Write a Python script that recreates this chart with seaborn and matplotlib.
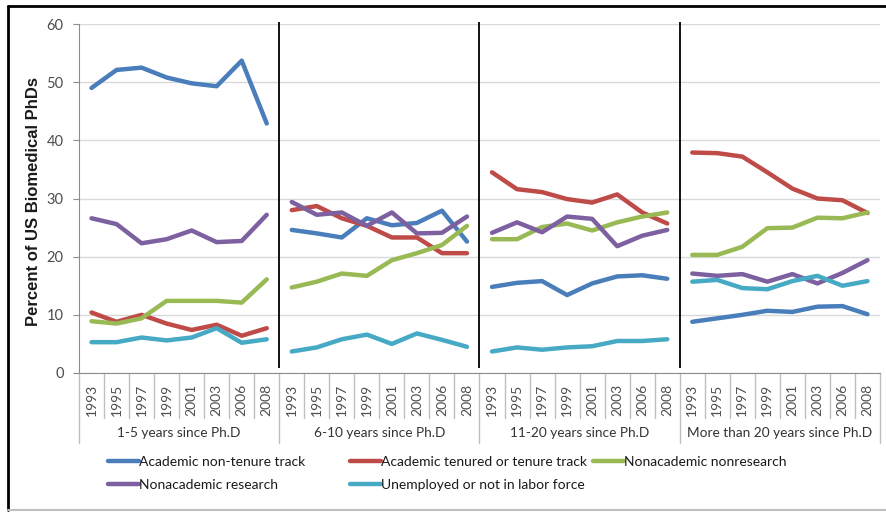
import numpy as np
import pandas as pd
import seaborn as sns
import matplotlib.pyplot as plt
from matplotlib.lines import Line2D

years = ['1993', '1995', '1997', '1999', '2001', '2003', '2006', '2008']
groups = ['1-5 years since Ph.D', '6-10 years since Ph.D',
          '11-20 years since Ph.D', 'More than 20 years since Ph.D']
series = ['Academic non-tenure track', 'Academic tenured or tenure track',
          'Nonacademic nonresearch', 'Nonacademic research',
          'Unemployed or not in labor force']

# values per series, 8 years for each of the 4 groups
non_tenure = [49.0, 52.1, 52.5, 50.8, 49.8, 49.3, 53.7, 42.9,
              24.6, 24.0, 23.3, 26.6, 25.4, 25.8, 27.9, 22.6,
              14.8, 15.5, 15.8, 13.4, 15.4, 16.6, 16.8, 16.2,
              8.8, 9.4, 10.0, 10.7, 10.5, 11.4, 11.5, 10.1]
tenured = [10.4, 8.8, 10.0, 8.5, 7.4, 8.3, 6.4, 7.7,
           28.0, 28.7, 26.6, 25.3, 23.3, 23.3, 20.6, 20.6,
           34.5, 31.6, 31.1, 29.9, 29.3, 30.7, 27.6, 25.7,
           37.9, 37.8, 37.2, 34.5, 31.7, 30.0, 29.7, 27.5]
nonresearch = [8.9, 8.5, 9.4, 12.4, 12.4, 12.4, 12.1, 16.1,
               14.7, 15.7, 17.1, 16.7, 19.4, 20.6, 22.0, 25.3,
               23.0, 23.0, 25.1, 25.7, 24.5, 25.9, 26.9, 27.6,
               20.3, 20.3, 21.7, 24.9, 25.0, 26.7, 26.6, 27.6]
research = [26.6, 25.6, 22.3, 23.0, 24.5, 22.5, 22.7, 27.2,
            29.4, 27.2, 27.6, 25.3, 27.6, 24.0, 24.1, 26.9,
            24.1, 25.9, 24.2, 26.9, 26.5, 21.8, 23.6, 24.6,
            17.1, 16.7, 17.0, 15.7, 17.0, 15.4, 17.2, 19.4]
unemployed = [5.3, 5.3, 6.1, 5.6, 6.1, 7.7, 5.2, 5.8,
              3.7, 4.4, 5.8, 6.6, 5.0, 6.8, 5.7, 4.5,
              3.7, 4.4, 4.0, 4.4, 4.6, 5.5, 5.5, 5.8,
              15.7, 16.0, 14.6, 14.4, 15.8, 16.7, 15.0, 15.8]

colors = ['#4A7EBB', '#BE4B48', '#98B954', '#7D60A0', '#46AAC5']

rows = []
for s, vals in zip(series, [non_tenure, tenured, nonresearch, research, unemployed]):
    for i, v in enumerate(vals):
        rows.append({'series': s, 'group': groups[i // 8], 'year': years[i % 8],
                     'pos': i, 'value': v})
df = pd.DataFrame(rows)

sns.set_style('white')
plt.rcParams['font.family'] = ['Lato', 'DejaVu Sans']

fig = plt.figure(figsize=(8.87, 5.12), dpi=100)
W, H = 887, 512
ax = fig.add_axes([79 / W, 1 - 373 / H, 801 / W, 349 / H])

pal = dict(zip(series, colors))
for g in groups:
    sub = df[df['group'] == g]
    sns.lineplot(data=sub, x='pos', y='value', hue='series', hue_order=series,
                 palette=pal, linewidth=3.2, legend=False, ax=ax,
                 solid_capstyle='round', solid_joinstyle='round')

ax.set_xlim(-0.5, 31.5)
ax.set_ylim(0, 60)
ax.set_yticks(range(0, 61, 10))
ax.grid(axis='y', color='#D9D9D9', linewidth=1)
ax.set_axisbelow(True)
for sp in ['top', 'right']:
    ax.spines[sp].set_visible(False)
ax.spines['left'].set_color('#8C8C8C')
ax.spines['bottom'].set_color('#8C8C8C')
ax.tick_params(axis='y', left=True, length=4, color='#8C8C8C', pad=7,
               labelsize=10.5, labelcolor='#4D4D4D')
ax.set_xticks(range(32))
ax.set_xticklabels(years * 4, rotation=90, fontsize=10, color='#4D4D4D')
ax.tick_params(axis='x', length=0, pad=8)
for t in ax.get_xticklabels():
    t.set_va('top')
ax.set_xlabel('')
ax.set_ylabel('Percent of US Biomedical PhDs', fontsize=12, fontweight='bold',
              family=['Liberation Sans', 'DejaVu Sans'], color='#1A1A1A')
ax.yaxis.set_label_coords(-0.047, 0.49)

# separators between groups inside the plot
ax.vlines([7.5, 15.5, 23.5], 0.8, 60.4, color='black', linewidth=1.3, clip_on=False)

# category boxes under the axis
tr = ax.get_xaxis_transform()
for b in np.arange(-0.5, 32, 1):
    is_group = (b + 0.5) % 8 == 0
    ax.plot([b, b], [0, -0.2 if is_group else -0.129], transform=tr,
            color='#BFBFBF', linewidth=1, clip_on=False)
for k, g in enumerate(groups):
    ax.text(3.5 + 8 * k, -0.172, g, transform=tr, ha='center', va='center',
            fontsize=9.8, color='#333333')

# legend laid out in fixed-width columns like the original
handles = [Line2D([], [], color=c, linewidth=3.2, solid_capstyle='round') for c in colors]
cols = [[0, 3], [1, 4], [2]]
xs = [108, 350, 593]
for idx, x0 in zip(cols, xs):
    fig.legend([handles[i] for i in idx], [series[i] for i in idx],
               loc='upper left', bbox_to_anchor=(x0 / W, 1 - 456 / H),
               frameon=False, fontsize=10, handlelength=2.2, handletextpad=0.05,
               borderpad=0, borderaxespad=0, labelspacing=0.8, labelcolor='#1A1A1A')

# outer frame
fig.add_artist(Line2D([8 / W, 8 / W], [1 - 6 / H, 1 - 510 / H], transform=fig.transFigure,
                      color='black', linewidth=2))
fig.add_artist(Line2D([8 / W, 1], [1 - 6 / H, 1 - 6 / H], transform=fig.transFigure,
                      color='black', linewidth=2))
fig.add_artist(Line2D([8 / W, 1], [1 - 510 / H, 1 - 510 / H], transform=fig.transFigure,
                      color='#BFBFBF', linewidth=1.5))

fig.savefig('out.png', dpi=100)
